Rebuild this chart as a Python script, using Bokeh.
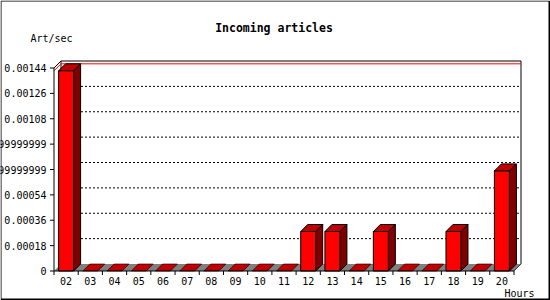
from bokeh.plotting import figure
from bokeh.models import Range1d
from bokeh.core.properties import value
from bokeh.embed import file_html
from bokeh.resources import INLINE

# ---- data ----
hours = ["02", "03", "04", "05", "06", "07", "08", "09", "10", "11",
         "12", "13", "14", "15", "16", "17", "18", "19", "20"]
values = [0.00142, 0, 0, 0, 0, 0, 0, 0, 0, 0,
          0.00028, 0.00028, 0, 0.00028, 0, 0, 0.00028, 0, 0.00071]
y_ticks = [0, 0.00018, 0.00036, 0.00054, 0.00072, 0.0009, 0.00108, 0.00126, 0.00144]
y_tick_labels = ["0", "0.00018", "0.00036", "0.00054", "0.00071999999999999",
                 "0.00089999999999999", "0.00108", "0.00126", "0.00144"]
title_text = "Incoming articles"
y_unit = "Art/sec"
x_unit = "Hours"

# ---- geometry (pixels) ----
W, H = 550, 300
FL, FB = 53.5, 270.5          # front-left / bottom of the 3D axes
AX_RIGHT = 513.5              # end of the front x axis
Y_TOP_PX = 67.5               # pixel row of the top tick
DEPTH = 7
BAR_W_PX = 15
FONT = "DejaVu Sans Mono"

n = len(hours)
ymax = max(y_ticks)
ppx = (AX_RIGHT - FL) / n
ppy = (FB - Y_TOP_PX) / ymax


def dxp(px):
    return (px - FL) / ppx


def dyp(py):
    return (FB - py) / ppy


dx = DEPTH / ppx
dy = DEPTH / ppy
bw = BAR_W_PX / ppx

p = figure(width=W, height=H,
           x_range=Range1d(dxp(0), dxp(W)), y_range=Range1d(dyp(H), dyp(0)),
           min_border=0, x_axis_location=None, y_axis_location=None,
           output_backend="svg", toolbar_location=None,
           background_fill_color="white", border_fill_color="white",
           outline_line_color=None)
p.xgrid.visible = False
p.ygrid.visible = False

# outer border of the picture
p.line([dxp(0.5), dxp(0.5), dxp(549), dxp(549), dxp(0.5)],
       [dyp(299), dyp(0.5), dyp(0.5), dyp(299), dyp(299)], line_color="black", line_width=1)
p.line([dxp(549), dxp(549)], [dyp(0.5), dyp(299)], line_color="black", line_width=2)
p.line([dxp(0.5), dxp(549)], [dyp(299), dyp(299)], line_color="black", line_width=2)

# back wall edges
wall_xs = [[dx, n + dx], [n + dx, n + dx], [dx, dx], [0, dx], [n, n + dx]]
wall_ys = [[ymax + dy, ymax + dy], [dy, ymax + dy], [dy, ymax + dy], [ymax, ymax + dy], [0, dy]]
p.multi_line(wall_xs, wall_ys, line_color="black", line_width=1)

# grid lines on back wall
grid_xs = [[dx, n + dx] for v in y_ticks[1:-1]]
grid_ys = [[v + dy, v + dy] for v in y_ticks[1:-1]]
p.multi_line(grid_xs, grid_ys, line_color="black", line_width=1, line_dash="2 2")

# max line
vmax = max(values)
p.line([0, dx, n + dx], [vmax, vmax + dy, vmax + dy], line_color="#ff0000", line_width=1)

# floor
p.patch([0, n, n + dx, dx], [0, 0, dy, dy], fill_color="#808080", line_color=None)

# bars
zx, zy = [], []
sx, sy, tx, ty = [], [], [], []
fl, fr, ft = [], [], []
for i, v in enumerate(values):
    x0 = i + 0.5 - bw / 2
    x1 = x0 + bw
    if v == 0:
        zx.append([x0, x1, x1 + dx, x0 + dx])
        zy.append([0, 0, dy, dy])
    else:
        sx.append([x1, x1 + dx, x1 + dx, x1])
        sy.append([0, dy, v + dy, v])
        tx.append([x0, x1, x1 + dx, x0 + dx])
        ty.append([v, v, v + dy, v + dy])
        fl.append(x0)
        fr.append(x1)
        ft.append(v)

p.patches(zx, zy, fill_color="#c00000", line_color="black", line_width=0.6)
p.patches(sx, sy, fill_color="#800000", line_color="black", line_width=1)
p.patches(tx, ty, fill_color="#c00000", line_color="black", line_width=1)
p.quad(left=fl, right=fr, bottom=0, top=ft, fill_color="#ff0000", line_color="black", line_width=1)

# front axes
p.line([0, 0], [0, ymax], line_color="black", line_width=1)
p.line([0, n], [0, 0], line_color="black", line_width=1)

# y ticks + labels
tick_len_x = 4 / ppx
p.segment(x0=[-tick_len_x] * len(y_ticks), y0=y_ticks, x1=[0] * len(y_ticks), y1=y_ticks,
          line_color="black", line_width=1)
p.text(x=[dxp(46)] * len(y_ticks), y=y_ticks, text=y_tick_labels,
       text_align="right", text_baseline="middle", text_font=value(FONT),
       text_font_size="10px", text_color="black")

# x ticks + labels
tick_len_y = 4 / ppy
bounds = list(range(n + 1))
p.segment(x0=bounds, y0=[0] * len(bounds), x1=bounds, y1=[-tick_len_y] * len(bounds),
          line_color="black", line_width=1)
p.text(x=[i + 0.5 for i in range(n)], y=[dyp(280.5)] * n, text=hours,
       text_align="center", text_baseline="middle", text_font=value(FONT),
       text_font_size="10px", text_color="black")

# texts
p.text(x=[dxp(273.5)], y=[dyp(27)], text=[title_text], text_align="center",
       text_baseline="middle", text_font=value(FONT), text_font_size="11.5px",
       text_font_style="bold", text_color="black")
p.text(x=[dxp(30)], y=[dyp(37.5)], text=[y_unit], text_align="left",
       text_baseline="middle", text_font=value(FONT), text_font_size="10px",
       text_color="black")
p.text(x=[dxp(504)], y=[dyp(292.5)], text=[x_unit], text_align="left",
       text_baseline="middle", text_font=value(FONT), text_font_size="10px",
       text_color="black")

open("out.html", "w").write(file_html(p, INLINE))
